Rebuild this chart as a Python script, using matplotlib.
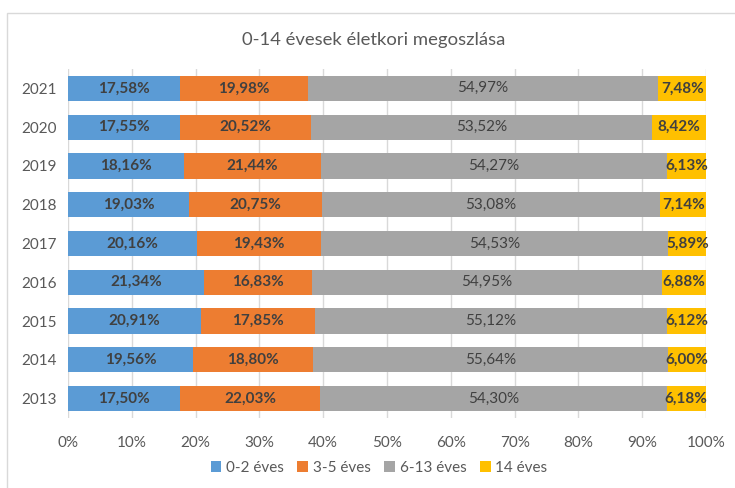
import matplotlib
matplotlib.use("Agg")
import matplotlib.pyplot as plt
from matplotlib.patches import Rectangle
import numpy as np

plt.rcParams['font.family'] = ['Lato', 'DejaVu Sans']

years = ["2013", "2014", "2015", "2016", "2017", "2018", "2019", "2020", "2021"]
series_names = ["0-2 éves", "3-5 éves", "6-13 éves", "14 éves"]
s_0_2 = [17.50, 19.56, 20.91, 21.34, 20.16, 19.03, 18.16, 17.55, 17.58]
s_3_5 = [22.03, 18.80, 17.85, 16.83, 19.43, 20.75, 21.44, 20.52, 19.98]
s_6_13 = [54.30, 55.64, 55.12, 54.95, 54.53, 53.08, 54.27, 53.52, 54.97]
s_14 = [6.18, 6.00, 6.12, 6.88, 5.89, 7.14, 6.13, 8.42, 7.48]
colors = ["#5B9BD5", "#ED7D31", "#A5A5A5", "#FFC000"]
title = "0-14 évesek életkori megoszlása"

data = np.array([s_0_2, s_3_5, s_6_13, s_14])
totals = data.sum(axis=0)
shares = data / totals * 100

fig = plt.figure(figsize=(7.35, 4.88), dpi=100)
fig.patches.append(Rectangle((7/735, -0.1), 1.2, 1 - 13/488 + 0.1, transform=fig.transFigure,
                             fill=False, edgecolor="#D9D9D9", linewidth=1.0))
ax = fig.add_axes([68/735, 1 - 418/488, (706 - 68)/735, (418 - 69)/488])

y = np.arange(len(years))
left = np.zeros(len(years))
for i, (name, col) in enumerate(zip(series_names, colors)):
    ax.barh(y, shares[i], left=left, height=0.65, color=col, label=name, zorder=3)
    for j in range(len(years)):
        txt = f"{data[i][j]:.2f}%".replace(".", ",")
        cx = left[j] + shares[i][j] / 2
        bold = i != 2
        ax.text(cx, y[j], txt, ha="center", va="center", fontsize=11,
                fontweight="bold" if bold else "normal", color="#404040", zorder=4)
    left += shares[i]

ax.set_xlim(0, 100)
ax.set_ylim(-0.5, len(years) - 0.5)
ax.set_xticks(np.arange(0, 101, 10))
ax.set_xticklabels([f"{v}%" for v in range(0, 101, 10)])
ax.set_yticks(y)
ax.set_yticklabels(years)
ax.tick_params(axis="both", length=0, labelsize=11, labelcolor="#595959")
ax.tick_params(axis="x", pad=13)
ax.tick_params(axis="y", pad=8)
ax.grid(axis="x", color="#D9D9D9", linewidth=1, zorder=0)
for sp in ax.spines.values():
    sp.set_visible(False)

fig.text(374/735, 1 - 40/488, title, ha="center", va="center", fontsize=13.3, color="#595959")

handles, labels = ax.get_legend_handles_labels()
fig.legend(handles, labels, loc="center", bbox_to_anchor=(379/735, 1 - 468/488), ncol=4,
           frameon=False, fontsize=11, labelcolor="#595959", handlelength=0.7, handleheight=0.7,
           handletextpad=0.3, columnspacing=0.9)

fig.savefig("out.png", dpi=100)
